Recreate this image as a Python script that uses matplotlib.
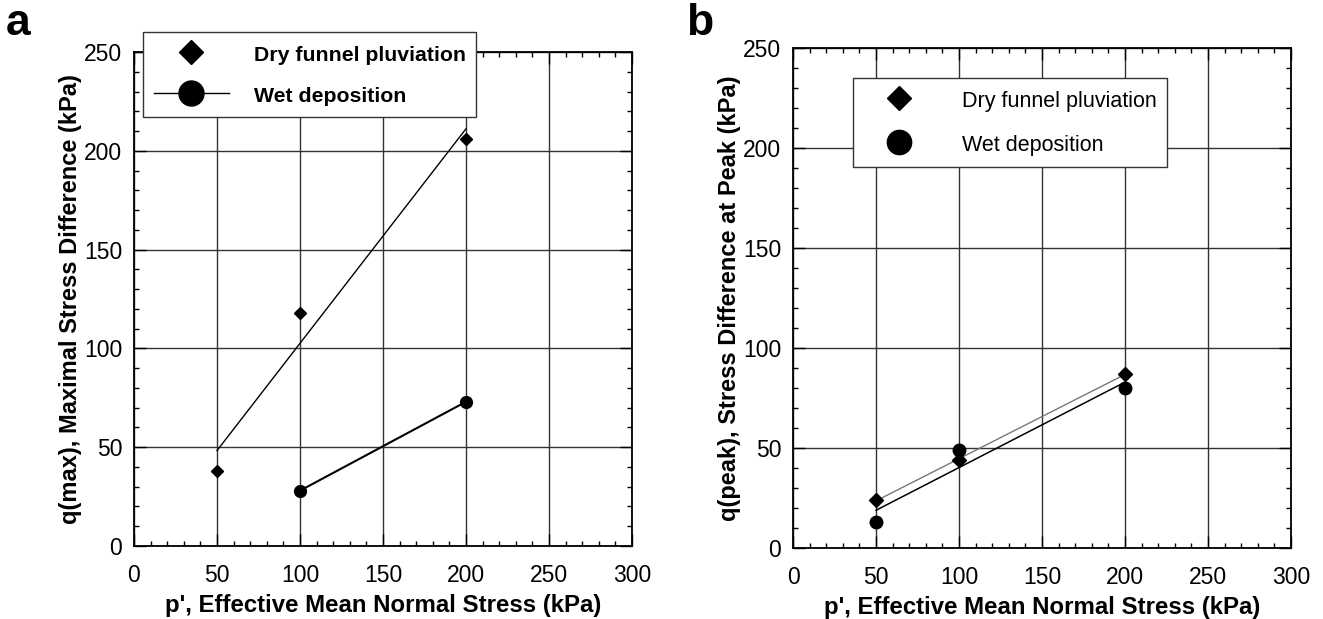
import numpy as np
import matplotlib
matplotlib.use("Agg")
import matplotlib.pyplot as plt
from matplotlib.lines import Line2D
from matplotlib.ticker import MultipleLocator

plt.rcParams['font.family'] = ['Liberation Sans', 'DejaVu Sans']

# Panel a: maximal stress difference
p_dry_a = [50, 100, 200]
q_dry_a = [38, 118, 206]
p_wet_a = [100, 200]
q_wet_a = [28, 73]

# Panel b: stress difference at peak
p_dry_b = [50, 100, 200]
q_dry_b = [24, 44, 87]
p_wet_b = [50, 100, 200]
q_wet_b = [13, 49, 80]

series_names = ['Dry funnel pluviation', 'Wet deposition']
xlabel = "p', Effective Mean Normal Stress (kPa)"
ylabel_a = "q(max), Maximal Stress Difference (kPa)"
ylabel_b = "q(peak), Stress Difference at Peak (kPa)"

W, H = 1323, 619


def fit_line(x, y):
    k, c = np.polyfit(x, y, 1)
    xs = np.array([min(x), max(x)])
    return xs, k * xs + c


def style_axes(ax, ylabel):
    ax.set_xlim(0, 300)
    ax.set_ylim(0, 250)
    ax.xaxis.set_major_locator(MultipleLocator(50))
    ax.xaxis.set_minor_locator(MultipleLocator(10))
    ax.yaxis.set_major_locator(MultipleLocator(50))
    ax.yaxis.set_minor_locator(MultipleLocator(10))
    ax.tick_params(which='both', direction='in', top=True, right=True,
                   labelsize=16.5, colors='black')
    ax.tick_params(axis='x', which='both', pad=13)
    ax.tick_params(axis='y', which='both', pad=8.5)
    ax.tick_params(which='major', length=8.5, width=1)
    ax.tick_params(which='minor', length=3.6, width=1)
    ax.grid(True, which='major', color='#333333', linewidth=1.0)
    for s in ax.spines.values():
        s.set_linewidth(1.3)
    ax.set_xlabel(xlabel, fontsize=17.3, fontweight='bold', labelpad=5)
    ax.set_ylabel(ylabel, fontsize=17, fontweight='bold', labelpad=1.5)


def px_axes(l, r, t, b):
    return [l / W, 1 - b / H, (r - l) / W, (b - t) / H]


fig = plt.figure(figsize=(W / 100, H / 100), dpi=100)
ax1 = fig.add_axes(px_axes(134, 632, 52, 546))
ax2 = fig.add_axes(px_axes(793, 1291, 48, 548))

# ---- panel a ----
style_axes(ax1, ylabel_a)
xs, ys = fit_line(p_dry_a, q_dry_a)
ax1.plot(xs, ys, color='black', lw=1.0, zorder=3)
ax1.plot(p_dry_a, q_dry_a, linestyle='none', marker='D', color='black',
         markersize=6.2, zorder=4)
ax1.plot(p_wet_a, q_wet_a, color='black', lw=1.5, marker='o',
         markersize=8.5, zorder=4)

h_a = [Line2D([], [], linestyle='none', marker='D', color='black', markersize=12.7),
       Line2D([], [], color='black', lw=1.0, marker='o', markersize=18)]
leg = ax1.legend(h_a, series_names,
                 loc='upper left', bbox_to_anchor=(143 / W, 1 - 32 / H),
                 bbox_transform=fig.transFigure,
                 fancybox=False, framealpha=1, edgecolor='#333333',
                 prop={'weight': 'bold', 'size': 15.3}, handlelength=3.55,
                 handleheight=1.2, handletextpad=1.15, borderpad=0.5,
                 labelspacing=0.9, borderaxespad=0)
leg.get_frame().set_linewidth(1.0)
leg.set_zorder(10)

# ---- panel b ----
style_axes(ax2, ylabel_b)
xs, ys = fit_line(p_dry_b, q_dry_b)
ax2.plot(xs, ys, color='#777777', lw=1.0, zorder=3)
xs, ys = fit_line(p_wet_b, q_wet_b)
ax2.plot(xs, ys, color='black', lw=1.1, zorder=3)
ax2.plot(p_dry_b, q_dry_b, linestyle='none', marker='D', color='black',
         markersize=6.8, zorder=4)
ax2.plot(p_wet_b, q_wet_b, linestyle='none', marker='o', color='black',
         markersize=9, zorder=4)

h_b = [Line2D([], [], linestyle='none', marker='D', color='black', markersize=12.7),
       Line2D([], [], linestyle='none', marker='o', color='black', markersize=17.5)]
leg2 = ax2.legend(h_b, series_names,
                  loc='upper left', bbox_to_anchor=(853 / W, 1 - 78 / H),
                  bbox_transform=fig.transFigure,
                  fancybox=False, framealpha=1, edgecolor='#333333',
                  prop={'size': 15.5}, handlelength=3.25,
                  handleheight=1.12, handletextpad=1.3, borderpad=0.5,
                  labelspacing=1.0, borderaxespad=0)
leg2.get_frame().set_linewidth(1.0)
leg2.set_zorder(10)

fig.text(6 / W, 1 - 35 / H, 'a', fontsize=32, fontweight='bold', va='baseline')
fig.text(686 / W, 1 - 35 / H, 'b', fontsize=32, fontweight='bold', va='baseline')

fig.savefig('out.png', dpi=100)
